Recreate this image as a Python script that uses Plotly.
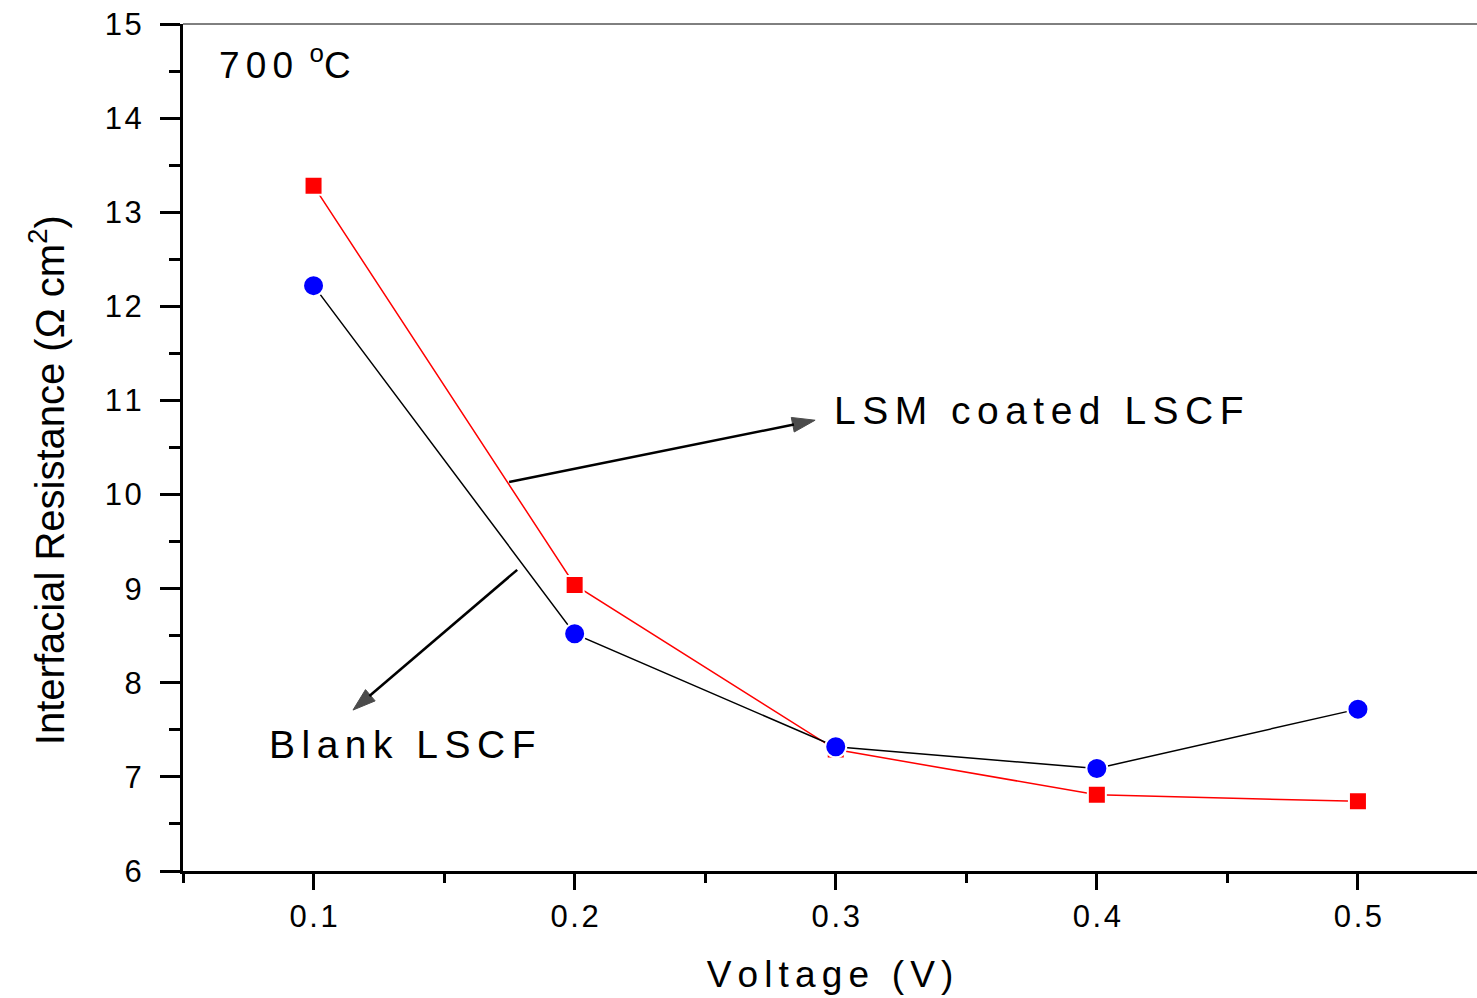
import plotly.graph_objects as go

voltage = [0.1, 0.2, 0.3, 0.4, 0.5]
lsm_coated = [13.28, 9.04, 7.29, 6.81, 6.74]
blank = [12.22, 8.52, 7.32, 7.09, 7.72]
x_ticks = [0.1, 0.2, 0.3, 0.4, 0.5]
x_tick_labels = ["0.1", "0.2", "0.3", "0.4", "0.5"]
y_ticks = [6, 7, 8, 9, 10, 11, 12, 13, 14, 15]
y_tick_labels = [str(v) for v in y_ticks]

FONT = "Arial, Liberation Sans, sans-serif"
HAIR = "\u200a"
SIXTH = "\u2006"


def spaced(s, sep):
    return sep.join(s)


fig = go.Figure()
fig.add_trace(go.Scatter(
    x=voltage, y=lsm_coated, mode="lines+markers", name="LSM coated LSCF",
    line=dict(color="red", width=1.5),
    marker=dict(symbol="square", size=18, color="red", line=dict(color="white", width=2)),
))
fig.add_trace(go.Scatter(
    x=voltage, y=blank, mode="lines+markers", name="Blank LSCF",
    line=dict(color="black", width=1.5),
    marker=dict(symbol="circle", size=21, color="blue", line=dict(color="white", width=2)),
))

# arrows (tail -> head) as line traces with an arrow marker at the head
arrow_lsm_x = [0.1749, 0.2921]
arrow_lsm_y = [10.133, 10.79]
arrow_blank_x = [0.178, 0.1151]
arrow_blank_y = [9.20, 7.71]
for ax_, ay_ in [(arrow_lsm_x, arrow_lsm_y), (arrow_blank_x, arrow_blank_y)]:
    fig.add_trace(go.Scatter(
        x=ax_, y=ay_, mode="lines+markers", hoverinfo="skip",
        line=dict(color="black", width=2.5),
        marker=dict(symbol=["circle", "arrow"], size=[0, 24], color="black",
                    angleref="previous", line=dict(width=1, color="black")),
    ))

fig.update_layout(
    width=1477, height=998,
    margin=dict(l=183, r=0, t=24, b=127),
    paper_bgcolor="white", plot_bgcolor="white",
    showlegend=False,
    font=dict(family=FONT, color="black"),
)
fig.update_xaxes(
    range=[0.05, 0.5456], tickvals=x_ticks,
    ticktext=[spaced(t, HAIR) for t in x_tick_labels],
    showgrid=False, zeroline=False,
    showline=True, linecolor="black", linewidth=3,
    ticks="outside", ticklen=16, tickwidth=3, tickcolor="black",
    tickfont=dict(size=31, family=FONT),
    minor=dict(dtick=0.05, tick0=0.05, ticks="outside", ticklen=9, tickwidth=3, tickcolor="black"),
    title=dict(text=spaced("Voltage (V)", SIXTH), font=dict(size=37, family=FONT), standoff=28),
)
fig.update_yaxes(
    range=[6, 15], tickvals=y_ticks,
    ticktext=[spaced(t, HAIR) for t in y_tick_labels],
    showgrid=False, zeroline=False,
    showline=True, linecolor="black", linewidth=3,
    ticks="outside", ticklen=20, tickwidth=3, tickcolor="black",
    tickfont=dict(size=31, family=FONT), ticklabelstandoff=12,
    minor=dict(dtick=0.5, tick0=6, ticks="outside", ticklen=11, tickwidth=3, tickcolor="black"),
)

# y axis title (placed slightly below centre, as in the reference)
fig.add_annotation(x=-0.105, y=0.4616, xref="paper", yref="paper",
                   text="Interfacial Resistance (\u03a9 cm<sup>2</sup>)", textangle=-90,
                   showarrow=False, xanchor="center", yanchor="middle",
                   font=dict(size=40, family=FONT, color="black"))

# thin top frame line
fig.add_shape(type="line", xref="paper", yref="paper", x0=0, x1=1, y0=1, y1=1,
              line=dict(color="black", width=1))

# labels
fig.add_annotation(x=0.2987, y=10.89, xref="x", yref="y", text=spaced("LSM coated LSCF", SIXTH),
                   showarrow=False, xanchor="left", yanchor="middle",
                   font=dict(size=39, family=FONT, color="black"))
fig.add_annotation(x=0.0822, y=7.34, xref="x", yref="y", text=spaced("Blank LSCF", SIXTH),
                   showarrow=False, xanchor="left", yanchor="middle",
                   font=dict(size=39, family=FONT, color="black"))
fig.add_annotation(x=0.063, y=14.586, xref="x", yref="y",
                   text=spaced("700", SIXTH) + SIXTH + " <sup>o</sup>C",
                   showarrow=False, xanchor="left", yanchor="middle",
                   font=dict(size=37, family=FONT, color="black"))

fig.write_html("out.html")
